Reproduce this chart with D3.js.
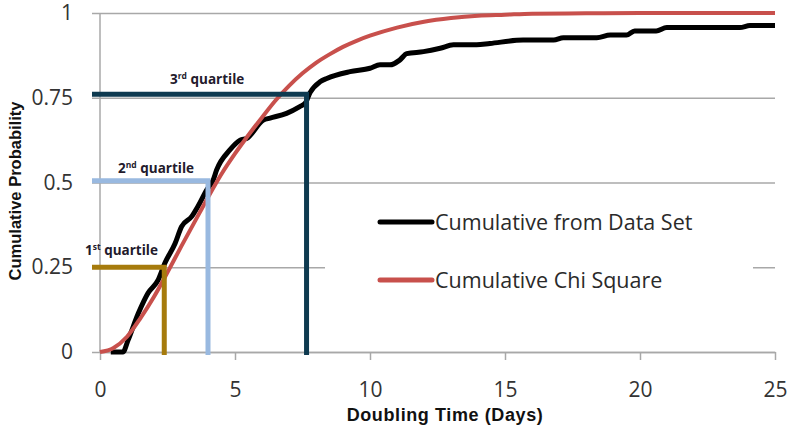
<!DOCTYPE html>
<html lang="en">

<head>
  <meta charset="UTF-8">
  <title>Cumulative Probability of Doubling Time</title>
  <script src="https://d3js.org/d3.v7.min.js"></script>
  <style>
    body {
      margin: 0;
      background: #fff;
    }

    .tick text {
      font-family: "Open Sans", sans-serif;
      font-size: 21px;
      fill: #333;
    }

    .axis-title {
      font-family: "Liberation Sans", Arial, sans-serif;
      font-weight: bold;
      fill: #111;
    }

    .q-label {
      font-family: "Open Sans", sans-serif;
      font-weight: bold;
      font-size: 13.5px;
      fill: #231a2c;
    }

    .legend text {
      font-family: "Open Sans", sans-serif;
      font-size: 21.5px;
      fill: #2a2a2a;
    }
  </style>
</head>

<body>
  <div id="chart"></div>
  <script>
    // chi square cumulative curve
    const chiDays = [0, 0.5, 1, 1.5, 2, 2.5, 3, 3.5, 4, 4.5, 5, 5.5, 6, 6.5, 7, 7.5, 8, 8.5, 9, 9.5, 10, 11, 12, 13, 14, 15, 16, 18, 20, 25];
    const chiProb = [0, 0.012, 0.045, 0.1, 0.163, 0.235, 0.31, 0.383, 0.456, 0.525, 0.585, 0.64, 0.692, 0.742, 0.785, 0.822, 0.853, 0.878, 0.9, 0.918, 0.933, 0.957, 0.974, 0.985, 0.992, 0.995, 0.998, 0.999, 1, 1];

    // cumulative from the data set
    const dataDays = [0.4, 0.85, 1.04, 1.42, 1.78, 2.15, 2.4, 2.78, 3.02, 3.4, 3.63, 3.95, 4.19, 4.32, 4.81, 5.19, 5.43, 6.05, 6.3, 6.91, 7.4, 7.6, 7.78, 8.15, 8.4, 9.26, 10, 10.37, 10.74, 11.1, 11.36, 11.98, 12.6, 13.09, 13.95, 14.44, 15.67, 16.8, 17.16, 18.4, 18.9, 19.5, 19.8, 20.6, 20.99, 23.7, 24.07, 25];
    const dataProb = [0, 0, 0.035, 0.114, 0.174, 0.212, 0.262, 0.32, 0.37, 0.4, 0.43, 0.478, 0.507, 0.537, 0.596, 0.625, 0.63, 0.684, 0.69, 0.704, 0.724, 0.734, 0.765, 0.797, 0.807, 0.827, 0.837, 0.847, 0.847, 0.861, 0.88, 0.886, 0.896, 0.906, 0.906, 0.91, 0.92, 0.92, 0.927, 0.927, 0.935, 0.935, 0.947, 0.947, 0.957, 0.957, 0.963, 0.963];

    // quartile markers
    const quartileOrd = ["1", "2", "3"];
    const quartileSup = ["st", "nd", "rd"];
    const quartileDays = [2.38, 4.0, 7.65];
    const quartileProb = [0.25, 0.505, 0.76];

    const xTicks = [0, 5, 10, 15, 20, 25];
    const yTicks = [0, 0.25, 0.5, 0.75, 1];
    const yTickLabels = ["0", "0.25", "0.5", "0.75", "1"];
    const seriesNames = ["Cumulative from Data Set", "Cumulative Chi Square"];

    const W = 791, H = 427;
    const qColors = ["#a67b0c", "#99b9e0", "#0e3a50"];

    const svg = d3.select("#chart").append("svg")
      .attr("width", W)
      .attr("height", H);

    const x = d3.scaleLinear().domain([0, 25]).range([100, 775]);
    const y = d3.scaleLinear().domain([0, 1]).range([352, 13]);

    // horizontal gridlines + y labels
    const yAxis = svg.append("g")
      .attr("transform", "translate(92,0)")
      .call(d3.axisLeft(y).tickValues(yTicks)
        .tickFormat((d, i) => yTickLabels[i])
        .tickSizeInner(-(x(25) - 92))
        .tickSizeOuter(0)
        .tickPadding(19));
    yAxis.select(".domain").remove();
    yAxis.selectAll(".tick line").attr("stroke", "#a8a8a8").attr("stroke-width", 1.5);

    // x axis
    const xAxis = svg.append("g")
      .attr("transform", `translate(0,${y(0)})`)
      .call(d3.axisBottom(x).tickValues(xTicks)
        .tickSize(8)
        .tickSizeOuter(0)
        .tickPadding(22));
    xAxis.select(".domain").attr("stroke", "#a8a8a8").attr("stroke-width", 1.5);
    xAxis.selectAll(".tick line").attr("stroke", "#a8a8a8").attr("stroke-width", 1.5);

    // vertical axis line
    svg.append("line")
      .attr("x1", x(0)).attr("x2", x(0))
      .attr("y1", y(1)).attr("y2", y(0))
      .attr("stroke", "#a8a8a8").attr("stroke-width", 1.5);

    // legend background hides part of the 0.25 gridline
    svg.append("rect")
      .attr("x", 325).attr("y", 195)
      .attr("width", 428).attr("height", 112)
      .attr("fill", "#fff");

    const line = d3.line()
      .x(d => x(d[0]))
      .y(d => y(d[1]))
      .curve(d3.curveMonotoneX);

    svg.append("path")
      .datum(d3.zip(dataDays, dataProb))
      .attr("fill", "none")
      .attr("stroke", "#000")
      .attr("stroke-width", 5)
      .attr("stroke-linejoin", "round")
      .attr("d", line);

    svg.append("path")
      .datum(d3.zip(chiDays, chiProb))
      .attr("fill", "none")
      .attr("stroke", "#c8504c")
      .attr("stroke-width", 4)
      .attr("d", line);

    // quartile lines
    quartileDays.forEach((d, i) => {
      svg.append("path")
        .attr("fill", "none")
        .attr("stroke", qColors[i])
        .attr("stroke-width", 5)
        .attr("d", d3.line()([[92, y(quartileProb[i])], [x(d), y(quartileProb[i])], [x(d), y(0) + 3]]));
    });

    const qLabelPos = [[85, 255], [118, 173], [170, 84]];
    quartileOrd.forEach((o, i) => {
      const t = svg.append("text")
        .attr("class", "q-label")
        .attr("x", qLabelPos[i][0])
        .attr("y", qLabelPos[i][1]);
      t.append("tspan").text(o);
      t.append("tspan").attr("font-size", "8.5px").attr("dy", "-5").text(quartileSup[i]);
      t.append("tspan").attr("dy", "5").text(" quartile");
    });

    // axis titles
    svg.append("text")
      .attr("class", "axis-title")
      .attr("x", 445).attr("y", 421)
      .attr("text-anchor", "middle")
      .attr("font-size", "18px")
      .attr("letter-spacing", "0.6px")
      .text("Doubling Time (Days)");

    svg.append("text")
      .attr("class", "axis-title")
      .attr("transform", "translate(21,191) rotate(-90)")
      .attr("text-anchor", "middle")
      .attr("font-size", "16.5px")
      .text("Cumulative Probability");

    // legend
    const legend = svg.append("g").attr("class", "legend");
    const legendColors = ["#000", "#c8504c"];
    const legendY = [222, 280];
    seriesNames.forEach((name, i) => {
      legend.append("line")
        .attr("x1", 380).attr("x2", 432)
        .attr("y1", legendY[i]).attr("y2", legendY[i])
        .attr("stroke", legendColors[i])
        .attr("stroke-width", 5)
        .attr("stroke-linecap", "round");
      legend.append("text")
        .attr("x", 435).attr("y", legendY[i])
        .attr("dy", "0.36em")
        .text(name);
    });
  </script>
</body>

</html>
